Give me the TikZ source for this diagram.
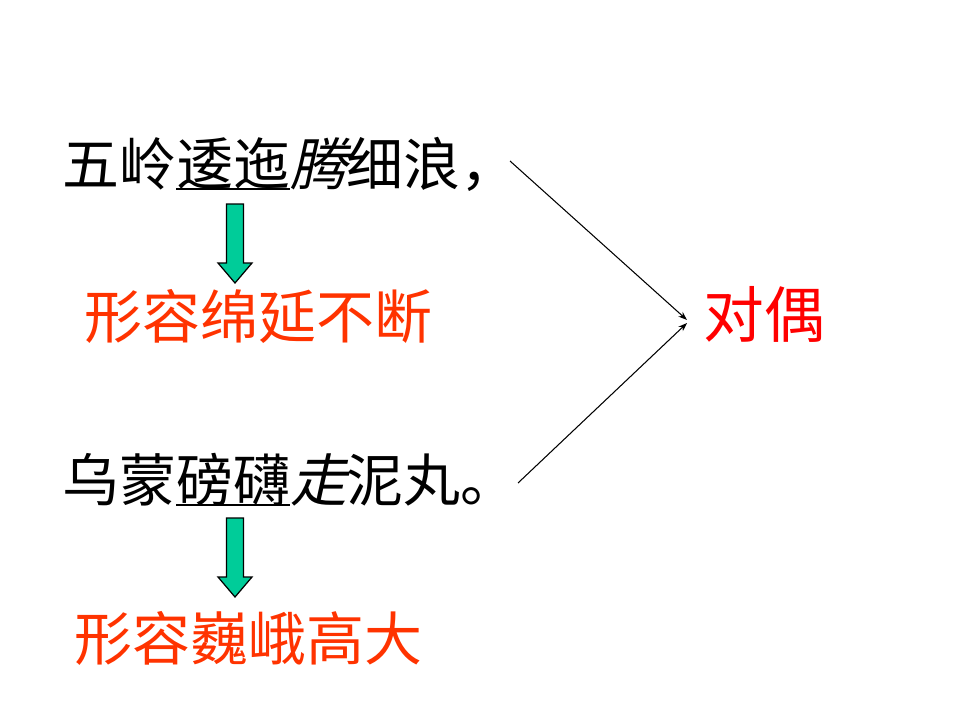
\documentclass[tikz,border=0pt]{standalone}
\usepackage{fontspec}
\usetikzlibrary{arrows.meta}
\newfontfamily\cjk{Noto Sans CJK SC}
\newfontfamily\cjkslant[FakeSlant=0.22]{Noto Sans CJK SC}
\definecolor{arrowgreen}{HTML}{00CC99}
\definecolor{glossred}{HTML}{FF3300}
\definecolor{termred}{HTML}{FF0000}
% thick rule under a run of characters
\newcommand\ulthick[1]{\setbox0\hbox{#1}\rlap{\rule[-2.8pt]{\wd0}{1.3pt}}\box0}
\begin{document}
\begin{tikzpicture}[x=0.02cm,y=-0.02cm]
  \path[use as bounding box] (0,0) rectangle (960,720);

  \tikzset{
    verse/.style={anchor=base west,inner sep=0pt,font=\cjk\fontsize{32.4pt}{34pt}\selectfont,text=black},
    gloss/.style={anchor=base west,inner sep=0pt,font=\cjk\fontsize{33pt}{35pt}\selectfont,text=glossred},
    term/.style={anchor=base west,inner sep=0pt,font=\cjk\fontsize{34.6pt}{36pt}\selectfont,text=termred},
    link/.style={line width=0.6pt,-{Stealth[length=5pt,width=3.6pt]}},
    downarrow/.pic={
      \draw[fill=arrowgreen,line width=0.7pt]
        (-8.5,0) -- (8.5,0) -- (8.5,59) -- (17,59) -- (0,79) -- (-17,59) -- (-8.5,59) -- cycle;
    }
  }

  % two verse lines and their glosses
  \node[verse] (lineone) at (62,185) {五岭\ulthick{逶迤}{\cjkslant 腾}细浪，};
  \node[gloss] (glossone) at (84,338) {形容绵延不断};
  \node[verse] (linetwo) at (62,501) {乌蒙\ulthick{磅礴}{\cjkslant 走}泥丸。};
  \node[gloss] (glosstwo) at (74,660) {形容巍峨高大};
  \node[term] (duiou) at (703,337) {对偶};

  \pic at (235,204) {downarrow};
  \pic at (235,518) {downarrow};

  % both lines point to the figure of speech
  \coordinate (oneend) at (510,161);
  \coordinate (twoend) at (518,483);
  \coordinate (tipone) at (687,320);
  \coordinate (tiptwo) at (687,323);
  \draw[link] (oneend) -- (tipone);
  \draw[link] (twoend) -- (tiptwo);
\end{tikzpicture}
\end{document}
